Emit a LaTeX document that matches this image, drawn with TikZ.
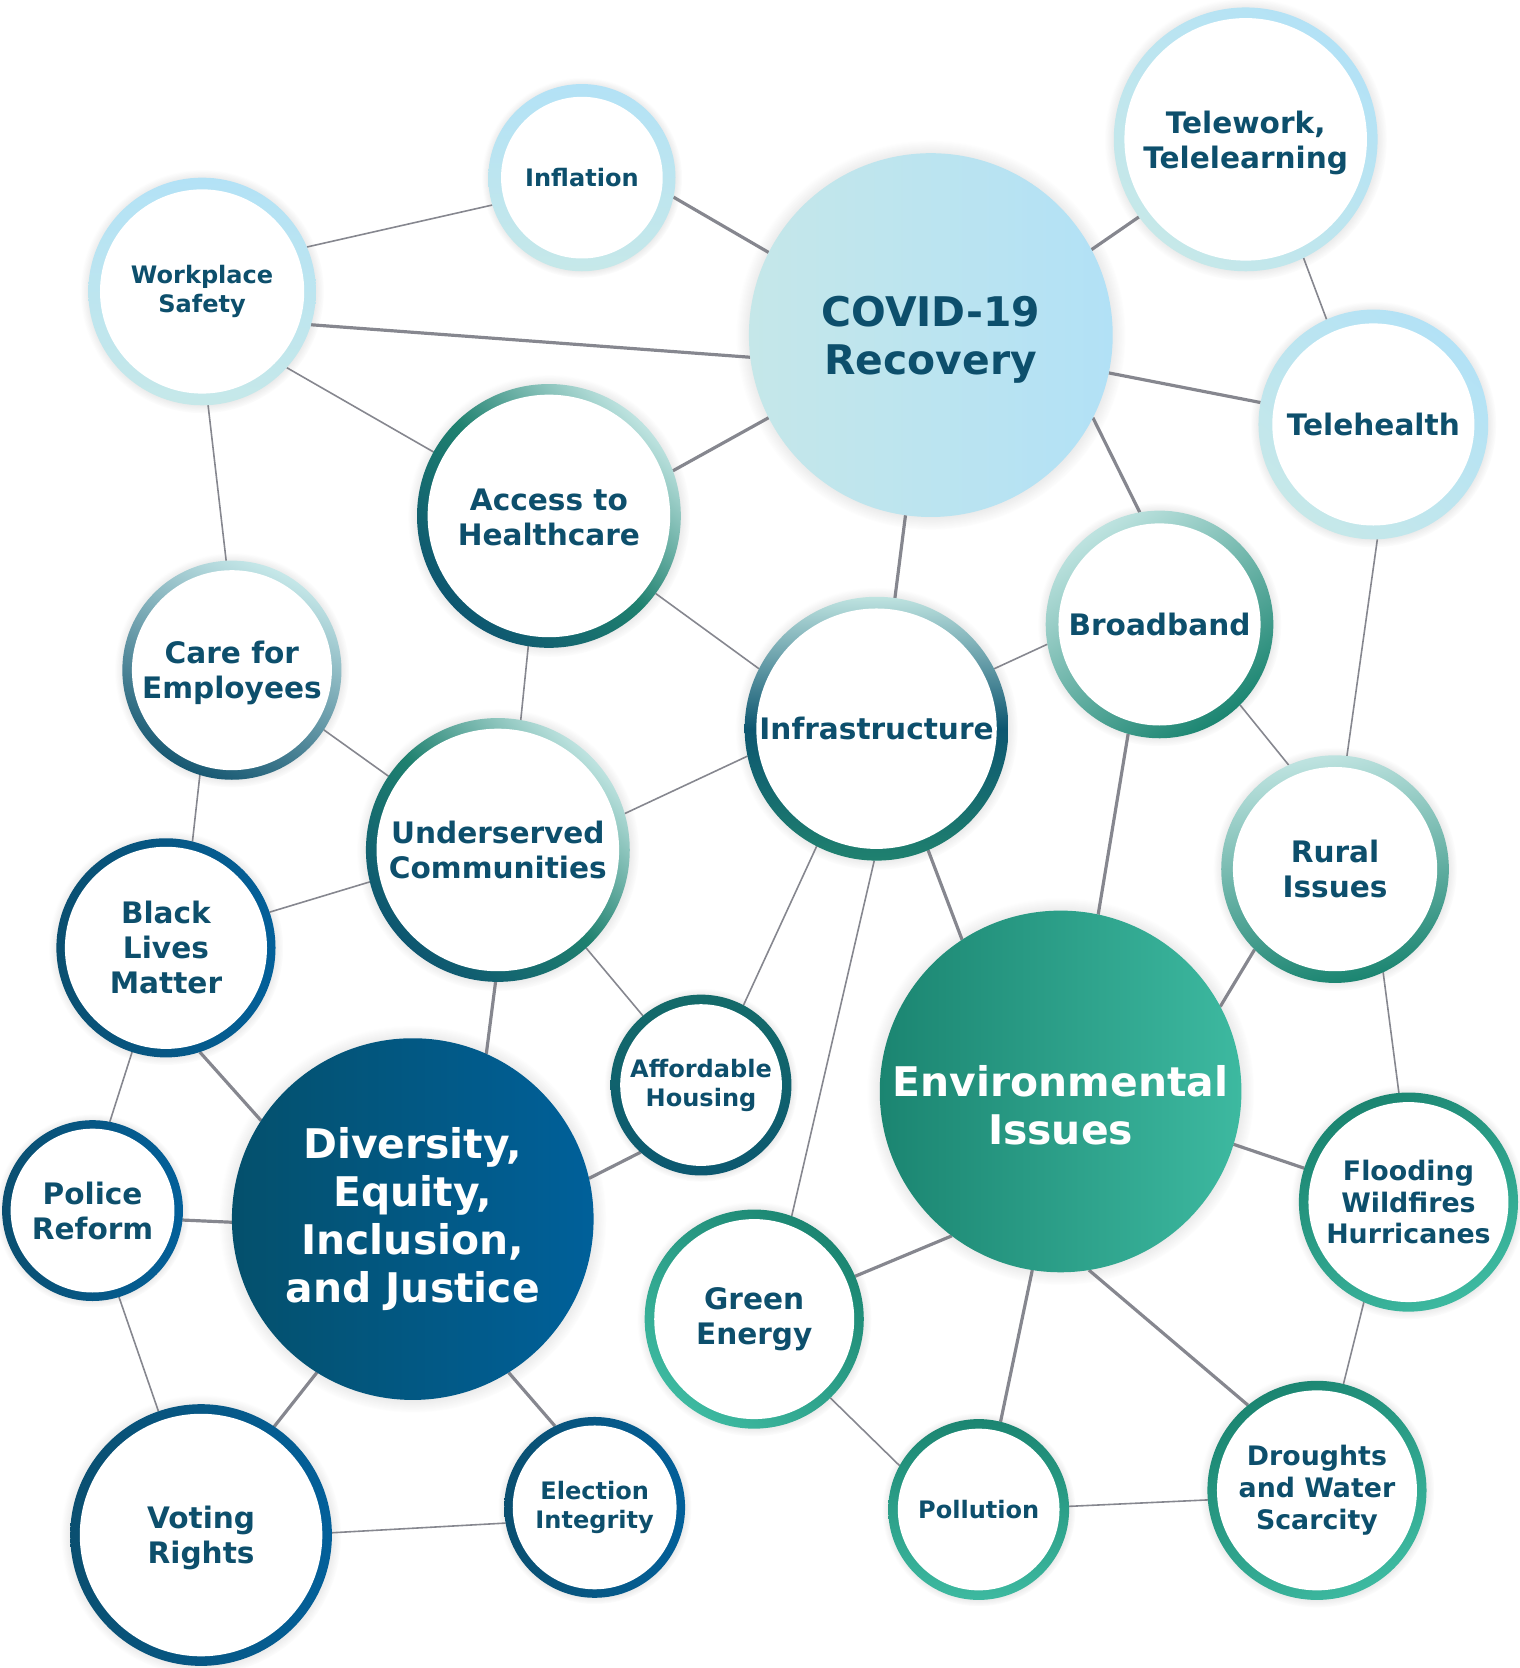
\documentclass[tikz,border=0pt]{standalone}
\usepackage{fontspec}
\setmainfont{DejaVu Sans}
\usetikzlibrary{shadows,fadings}
\pgfdeclarelayer{background}
\pgfsetlayers{background,main}
\definecolor{txt}{HTML}{0D4F6C}
\definecolor{edgec}{HTML}{86878F}
\definecolor{lb}{HTML}{B3E2F6}
\definecolor{lt}{HTML}{C6E8E9}
\definecolor{ltl}{HTML}{BEE3E0}
\definecolor{mgr}{HTML}{1F816F}
\definecolor{dkb}{HTML}{0D5670}
\definecolor{cblue}{HTML}{175872}
\definecolor{gdark}{HTML}{1B8571}
\definecolor{glight}{HTML}{3DB9A0}
\definecolor{nb1}{HTML}{0A4F70}
\definecolor{nb2}{HTML}{03609A}
\definecolor{afd1}{HTML}{146B6A}
\definecolor{afd2}{HTML}{0C5870}
\definecolor{cov1}{HTML}{C5E7E9}
\definecolor{cov2}{HTML}{B2E1F6}
\definecolor{dei1}{HTML}{04506C}
\definecolor{dei2}{HTML}{00609A}
\tikzset{
  glow/.style={general shadow={shadow scale=1.07, path fading=circle with fuzzy edge 15 percent, fill=black!60, opacity=0.28}},
  bub/.style 2 args={circle, inner sep=0pt, outer sep=0pt, minimum size=#1pt, align=center, text=txt, glow,
     path picture={\fill[white] (path picture bounding box.center) circle ({(#1-#2)*0.5pt});}},
  hubn/.style={circle, inner sep=0pt, outer sep=0pt, minimum size=#1pt, align=center, glow,
     font=\bfseries\fontsize{19.2}{22.5}\selectfont},
  hubtext/.style={align=center, font=\bfseries\fontsize{19.2}{22.3}\selectfont},
  fm/.style={font=\bfseries\fontsize{13.9}{16.5}\selectfont},
  fq/.style={font=\bfseries\fontsize{12.6}{15}\selectfont},
  fs/.style={font=\bfseries\fontsize{11.3}{13.7}\selectfont},
  lm/.style={align=center, text=txt, font=\bfseries\fontsize{13.9}{16.5}\selectfont},
  ringlb/.style={top color=lb, bottom color=lt, shading angle=#1},
  ringac/.style={top color=ltl, bottom color=dkb, middle color=mgr, shading angle=#1},
  ringgr/.style={top color=gdark, bottom color=glight, shading angle=#1},
  ringnb/.style={left color=nb1, right color=nb2},
  ln/.style={draw=edgec, line width=0.75pt},
  lk/.style={draw=edgec, line width=1.5pt},
}
\begin{document}
\begin{tikzpicture}[x=0.5pt, y=-0.5pt]
\useasboundingbox (0,0) rectangle (1428,1568);
% hubs
\node[hubn=171, left color=cov1, right color=cov2,
      label={[hubtext, text=txt, yshift=-2.2pt]center:COVID-19\\Recovery}] (cov) at (875,315) {};
\node[hubn=170, left color=gdark, right color=glight,
      label={[hubtext, text=white, yshift=-6.5pt]center:Environmental\\Issues}] (env) at (997,1026) {};
\node[hubn=170, left color=dei1, right color=dei2, text=white] (dei) at (388,1146) {Diversity,\\Equity,\\Inclusion,\\and Justice};
% light blue group
\node[bub={88}{12}, ringlb=0, fs] (infl) at (547,167) {Inflation};
\node[bub={107}{11}, ringlb=0, fs] (wps) at (190,274) {Workplace\\Safety};
\node[bub={124}{10}, ringlb=-40, label={[lm, yshift=-1.5pt]center:Telework,\\Telelearning}] (tlw) at (1171,131) {};
\node[bub={108}{13}, ringlb=-40, fm] (thl) at (1291,399) {Telehealth};
% mid group
\node[bub={124}{10}, ringac=-45, label={[lm, yshift=-0.8pt]center:Access to\\Healthcare}] (acc) at (516,485) {};
\node[bub={103}{9}, top color=lt, bottom color=cblue, shading angle=-25, label={[lm, yshift=-1.3pt]center:Care for\\Employees}] (care) at (218,630) {};
\node[bub={107}{12}, top color=ltl, bottom color=gdark, shading angle=35, fm] (brd) at (1090,587) {Broadband};
\node[bub={124}{11}, top color=ltl, bottom color=mgr, middle color=dkb, fm] (infr) at (824,685) {Infrastructure};
\node[bub={124}{10}, ringac=-45, fm] (und) at (468,799) {Underserved\\Communities};
\node[bub={107}{11}, top color=ltl, bottom color=gdark, shading angle=10, fm] (rur) at (1255,817) {Rural\\Issues};
\node[bub={85}{9}, top color=afd1, bottom color=afd2, fs] (aff) at (659,1020) {Affordable\\Housing};
% dark blue group
\node[bub={103}{8}, ringnb, fm] (blm) at (156,891) {Black\\Lives\\Matter};
\node[bub={85}{8}, ringnb, fm] (pol) at (87,1138) {Police\\Reform};
\node[bub={123}{9}, ringnb, label={[lm, yshift=-1.5pt]center:Voting\\Rights}] (vot) at (189,1443) {};
\node[bub={85}{8}, ringnb, fs] (ele) at (559,1417) {Election\\Integrity};
% green group
\node[bub={103}{9}, ringgr=30, fq] (fld) at (1324,1130) {Flooding\\Wildfires\\Hurricanes};
\node[bub={103}{9}, ringgr=-40, fm] (grn) at (709,1240) {Green\\Energy};
\node[bub={85}{9}, ringgr=0, fs] (plt) at (920,1419) {Pollution};
\node[bub={103}{9}, ringgr=30, fq] (drt) at (1238,1401) {Droughts\\and Water\\Scarcity};
\begin{pgfonlayer}{background}
\draw[ln] (wps.23.7) -- (infl.197);
\draw[lk] (infl.-12.9) -- (cov.153.3);
\draw[lk] (wps.-17.3) -- (cov.187.7);
\draw[ln] (wps.-42.8) -- (acc.151.6);
\draw[ln] (wps.-87.9) -- (care.93.7);
\draw[lk] (cov.207.6) -- (acc.20);
\draw[lk] (cov.28.7) -- (tlw.216.6);
\draw[ln] (tlw.-64) -- (thl.114.9);
\draw[lk] (cov.-12.6) -- (thl.169.7);
\draw[lk] (cov.-27.5) -- (brd.100.8);
\draw[lk] (cov.262) -- (infr.82.6);
\draw[ln] (thl.-88.4) -- (rur.84.1);
\draw[ln] (acc.-36.6) -- (infr.153.4);
\draw[ln] (acc.261.3) -- (und.80.8);
\draw[ln] (care.-33.4) -- (und.146.2);
\draw[ln] (care.253.8) -- (blm.76.1);
\draw[ln] (brd.190.6) -- (infr.27.4);
\draw[ln] (brd.-45.4) -- (rur.114);
\draw[lk] (brd.254.1) -- (env.78.6);
\draw[ln] (infr.192.9) -- (und.16.1);
\draw[ln] (infr.243.4) -- (aff.62.3);
\draw[ln] (infr.269.5) -- (grn.70.2);
\draw[lk] (infr.-67.3) -- (env.123.7);
\draw[ln] (und.194.1) -- (blm.19.7);
\draw[ln] (und.-48.9) -- (aff.130.2);
\draw[lk] (und.269.1) -- (dei.66.1);
\draw[lk] (rur.225.4) -- (env.28.1);
\draw[ln] (rur.-65.1) -- (fld.95.6);
\draw[ln] (blm.252.6) -- (pol.79.2);
\draw[lk] (blm.-72.1) -- (dei.147.9);
\draw[lk] (aff.228.4) -- (dei.13.3);
\draw[lk] (pol.-6.9) -- (dei.181.4);
\draw[ln] (pol.-73) -- (vot.109.5);
\draw[lk] (dei.238.9) -- (vot.56.1);
\draw[lk] (dei.-58.3) -- (ele.116.6);
\draw[ln] (vot.1.8) -- (ele.190.7);
\draw[lk] (env.-17.9) -- (fld.162.3);
\draw[lk] (env.233.4) -- (grn.23.6);
\draw[lk] (env.261.4) -- (plt.76.6);
\draw[lk] (env.-81.4) -- (drt.129.5);
\draw[ln] (fld.246.4) -- (drt.76.6);
\draw[ln] (grn.-46.5) -- (plt.151.9);
\draw[ln] (plt.2.7) -- (drt.185);
\end{pgfonlayer}
\end{tikzpicture}
\end{document}
